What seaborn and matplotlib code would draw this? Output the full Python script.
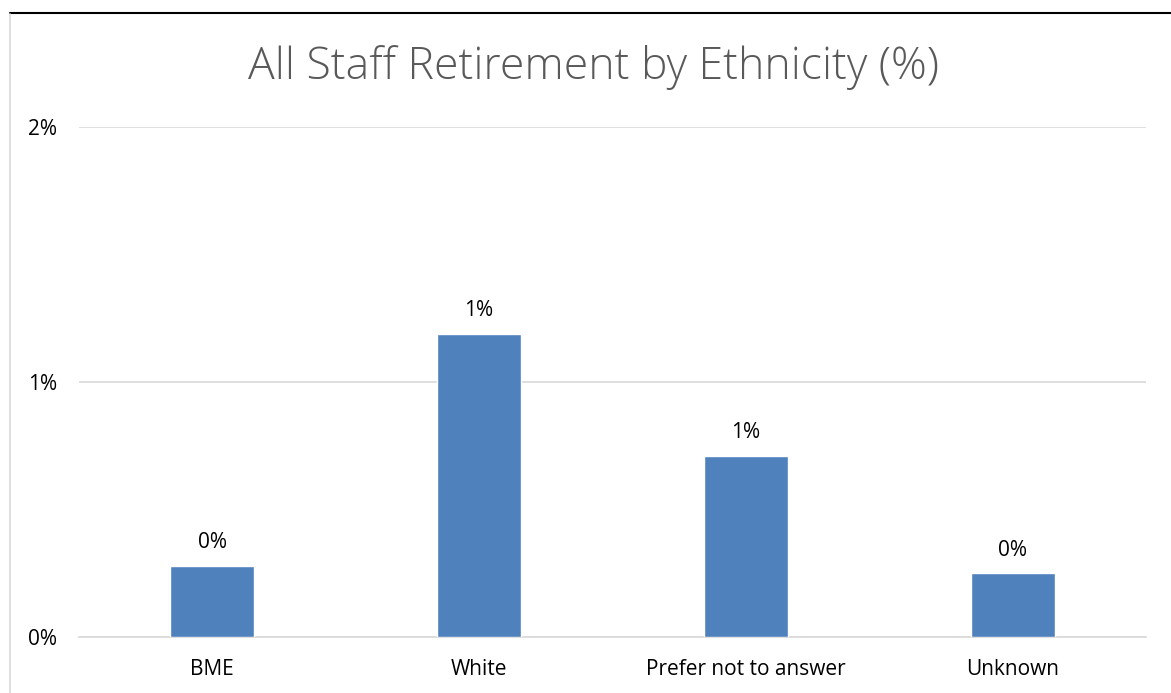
import matplotlib
matplotlib.use('Agg')
import matplotlib.pyplot as plt
import matplotlib.ticker as ticker
import pandas as pd
import seaborn as sns

categories = ['BME', 'White', 'Prefer not to answer', 'Unknown']
retirement_pct = [0.28, 1.19, 0.71, 0.25]
ytick_values = [0, 1, 2]

df = pd.DataFrame({'ethnicity': categories, 'pct': retirement_pct})

sns.set_style('white')
plt.rcParams['font.family'] = ['Open Sans', 'DejaVu Sans']

fig = plt.figure(figsize=(11.71, 6.93), dpi=100)
ax = fig.add_axes([79 / 1171, (693 - 637) / 693, (1146 - 79) / 1171, (637 - 127) / 693])

sns.barplot(data=df, x='ethnicity', y='pct', color='#4f81bd', width=0.315,
            saturation=1, ax=ax, zorder=3)

ax.set_ylim(0, 2)
ax.set_xlim(-0.5, 3.5)
ax.set_yticks(ytick_values)
ax.yaxis.set_major_formatter(ticker.FuncFormatter(lambda v, p: '{:.0f}%'.format(v)))
ax.grid(axis='y', color='#d9d9d9', linewidth=1.2, zorder=0)
for s in ['top', 'right', 'left']:
    ax.spines[s].set_visible(False)
ax.spines['bottom'].set_color('#d9d9d9')
ax.spines['bottom'].set_linewidth(1.2)
ax.tick_params(axis='both', length=0, labelsize=15, colors='#000000')
ax.tick_params(axis='y', pad=16)
ax.tick_params(axis='x', pad=16)
ax.set_xlabel('')
ax.set_ylabel('')

for i, v in enumerate(retirement_pct):
    ax.annotate('{:.0f}%'.format(v), (i, v), xytext=(0, 9), textcoords='offset points',
                ha='center', va='bottom', fontsize=15, color='#000000')

fig.text(593 / 1171, 1 - 68 / 693, 'All Staff Retirement by Ethnicity (%)',
         ha='center', va='center', fontsize=32, color='#595959', fontweight='light')

# frame lines at top and left
fig.add_artist(plt.Line2D([10 / 1171, 1], [1 - 13 / 693, 1 - 13 / 693], color='black', linewidth=1.5))
fig.add_artist(plt.Line2D([10 / 1171, 10 / 1171], [0, 1 - 14 / 693], color='#d9d9d9', linewidth=1.2))

fig.savefig('out.png', dpi=100)
